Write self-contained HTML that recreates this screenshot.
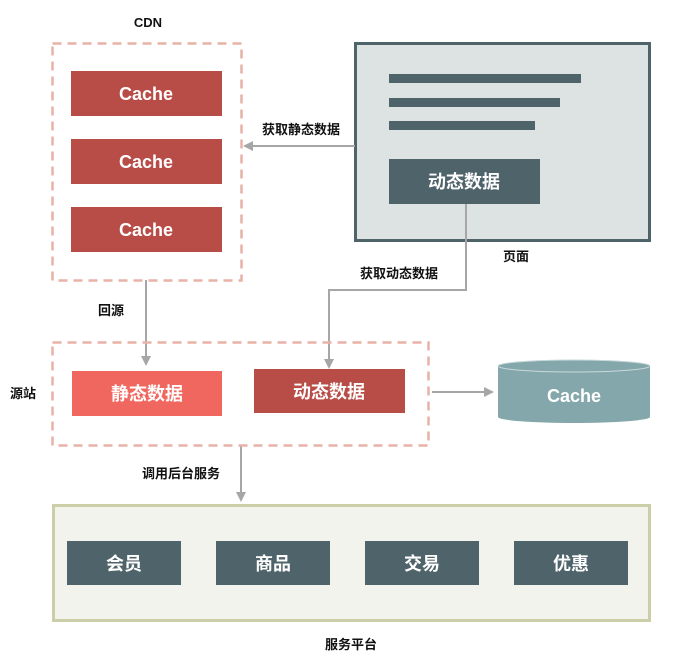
<!DOCTYPE html>
<html><head><meta charset="utf-8"><style>
body{margin:0;background:#fff;width:682px;height:664px;overflow:hidden}
svg text{font-family:"Liberation Sans","Noto Sans CJK SC",sans-serif;font-weight:bold}
</style></head><body>
<svg width="682" height="664" viewBox="0 0 682 664" xmlns="http://www.w3.org/2000/svg">
<defs><marker id="a" markerWidth="10" markerHeight="10" refX="8" refY="5" orient="auto" markerUnits="userSpaceOnUse"><path d="M0,0 L10,5 L0,10 z" fill="#a6a6a6"/></marker></defs>
<g font-size="13" fill="#111">
<text x="148" y="27" text-anchor="middle">CDN</text>
<text x="301" y="134" text-anchor="middle">获取静态数据</text>
<text x="516" y="261" text-anchor="middle">页面</text>
<text x="399" y="278" text-anchor="middle">获取动态数据</text>
<text x="111" y="315" text-anchor="middle">回源</text>
<text x="23" y="398" text-anchor="middle">源站</text>
<text x="181" y="478" text-anchor="middle">调用后台服务</text>
<text x="351" y="649" text-anchor="middle">服务平台</text>
</g>
<rect x="52.5" y="43.5" width="189" height="237" fill="none" stroke="#e8b2a6" stroke-width="2.5" stroke-dasharray="9,6"/>
<g fill="#b84c47"><rect x="71" y="71" width="151" height="45"/><rect x="71" y="139" width="151" height="45"/><rect x="71" y="207" width="151" height="45"/></g>
<g fill="#fff" font-size="18" text-anchor="middle"><text x="146" y="100">Cache</text><text x="146" y="168">Cache</text><text x="146" y="236">Cache</text></g>
<rect x="355.5" y="43.5" width="294" height="197" fill="#dde3e3" stroke="#4f636b" stroke-width="3"/>
<g fill="#4f636b"><rect x="389" y="74" width="192" height="9"/><rect x="389" y="98" width="171" height="9"/><rect x="389" y="121" width="146" height="9"/><rect x="389" y="159" width="151" height="45"/></g>
<text x="464" y="188" fill="#fff" font-size="18" text-anchor="middle">动态数据</text>
<g stroke="#a6a6a6" stroke-width="2" fill="none">
<line x1="355" y1="146" x2="245" y2="146" marker-end="url(#a)"/>
<polyline points="466,204 466,290 329,290 329,367" marker-end="url(#a)"/>
<line x1="146" y1="280" x2="146" y2="364" marker-end="url(#a)"/>
<line x1="432" y1="392" x2="492" y2="392" marker-end="url(#a)"/>
<line x1="241" y1="445" x2="241" y2="500" marker-end="url(#a)"/>
</g>
<rect x="52.5" y="342.5" width="376" height="103" fill="none" stroke="#e8b2a6" stroke-width="2.5" stroke-dasharray="9,6"/>
<rect x="72" y="371" width="150" height="45" fill="#f0675f"/>
<rect x="254" y="369" width="151" height="44" fill="#b84c47"/>
<g fill="#fff" font-size="18" text-anchor="middle"><text x="147" y="400">静态数据</text><text x="329" y="398">动态数据</text></g>
<path d="M498,366 L498,417 A76,6 0 0 0 650,417 L650,366 Z" fill="#84a7ab"/>
<ellipse cx="574" cy="366" rx="76" ry="6" fill="#84a7ab" stroke="#c7d8da" stroke-width="1"/>
<text x="574" y="402" fill="#fff" font-size="18" text-anchor="middle">Cache</text>
<rect x="53.5" y="505.5" width="596" height="115" fill="#f3f3ee" stroke="#cccea8" stroke-width="3"/>
<g fill="#4f636b"><rect x="67" y="541" width="114" height="44"/><rect x="216" y="541" width="114" height="44"/><rect x="365" y="541" width="114" height="44"/><rect x="514" y="541" width="114" height="44"/></g>
<g fill="#fff" font-size="18" text-anchor="middle"><text x="124" y="570">会员</text><text x="273" y="570">商品</text><text x="422" y="570">交易</text><text x="571" y="570">优惠</text></g>
</svg>
</body></html>
